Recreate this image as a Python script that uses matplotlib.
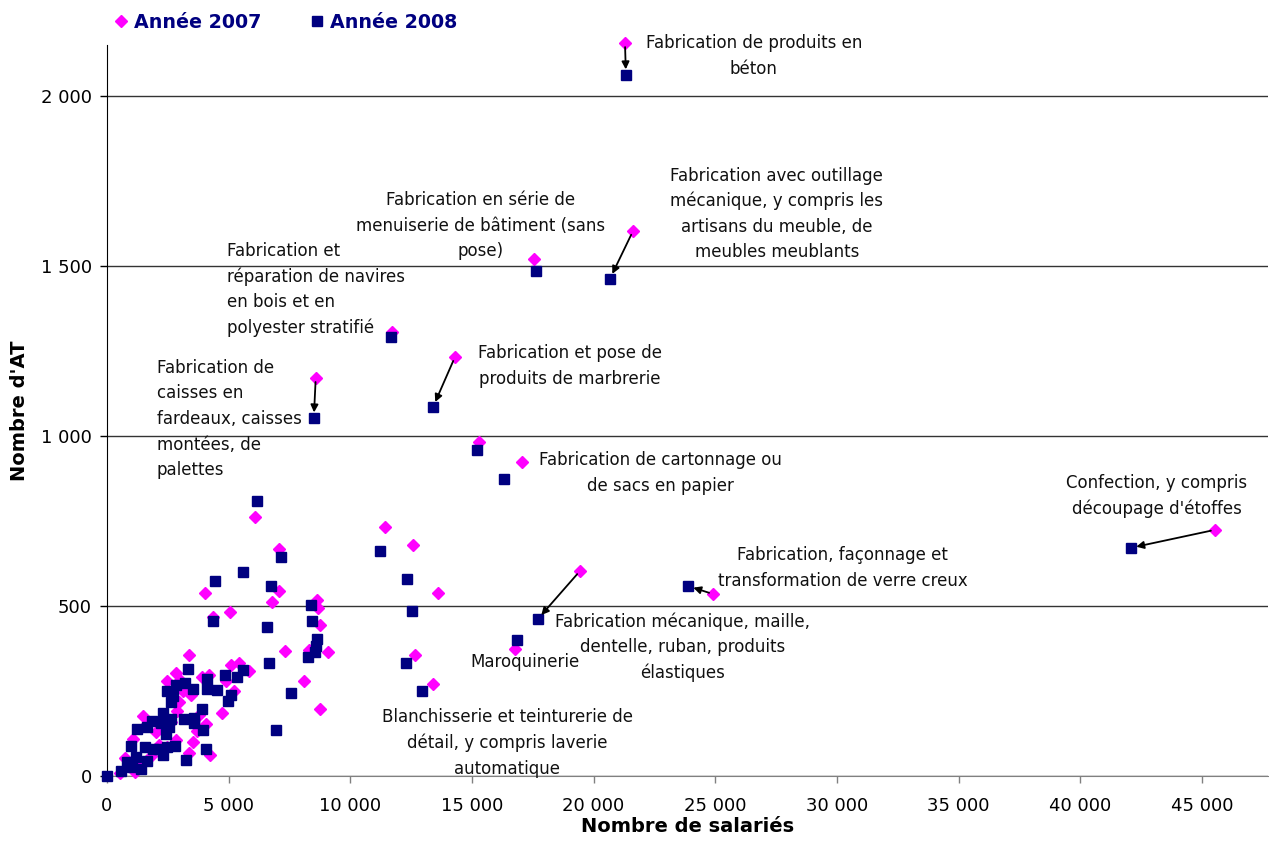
import matplotlib
matplotlib.use('Agg')
import matplotlib.pyplot as plt
from matplotlib.ticker import FuncFormatter, MultipleLocator

plt.rcParams['font.family'] = ['DejaVu Sans']

# secteurs commentes : (salaries, AT) en 2007 et 2008
sect_names = [
    'Fabrication de produits en\nbéton',
    'Fabrication avec outillage\nmécanique, y compris les\nartisans du meuble, de\nmeubles meublants',
    'Fabrication en série de\nmenuiserie de bâtiment (sans\npose)',
    'Fabrication et\nréparation de navires\nen bois et en\npolyester stratifié',
    'Fabrication et pose de\nproduits de marbrerie',
    'Fabrication de\ncaisses en\nfardeaux, caisses\nmontées, de\npalettes',
    'Fabrication de cartonnage ou\nde sacs en papier',
    'Confection, y compris\ndécoupage d\'étoffes',
    'Fabrication, façonnage et\ntransformation de verre creux',
    'Fabrication mécanique, maille,\ndentelle, ruban, produits\nélastiques',
    'Maroquinerie',
    'Blanchisserie et teinturerie de\ndétail, y compris laverie\nautomatique',
]
sect_x07 = [21290, 21620, 17550, 11710, 14300, 8580, 17070, 45540, 24910, 19440, 16770, 13390]
sect_y07 = [2156, 1603, 1521, 1306, 1232, 1171, 923, 724, 535, 603, 374, 270]
sect_x08 = [21330, 20670, 17630, 11670, 13400, 8500, 16330, 42080, 23880, 17700, 16860, 12930]
sect_y08 = [2062, 1462, 1485, 1291, 1085, 1053, 874, 671, 559, 461, 400, 251]
sect_arrow = [True, True, False, False, True, True, False, True, True, True, False, False]

# autres secteurs, annee 2007
oth_x07 = [15305, 11425, 12560, 13620, 12675,
           6070, 7080, 7080, 6780, 4040, 5055, 4340, 7300, 8095, 8750, 8645, 8670, 8750, 9080, 8290,
           3380, 2835, 2455, 3000, 3440, 2945, 2890, 1495, 3770, 4070, 4725, 5110, 5440, 5850, 4890,
           4180, 5220, 1085, 2835, 2455, 4235, 3355, 1135, 535, 725, 3685, 2125, 1820, 2630, 3135,
           1315, 1620, 2225, 3895, 3540, 2025]
oth_y07 = [982, 731, 678, 539, 355,
           761, 667, 543, 512, 539, 483, 469, 369, 278, 198, 518, 494, 445, 365, 371,
           357, 304, 278, 282, 239, 218, 192, 176, 178, 153, 186, 326, 333, 310, 278,
           296, 251, 108, 106, 84, 63, 69, 12, 8, 53, 131, 90, 60, 160, 250,
           40, 150, 150, 290, 100, 130]

# autres secteurs, annee 2008
oth_x08 = [15195, 11220, 12345, 12520, 12290,
           6180, 7165, 5575, 4450, 6755, 4340, 6590, 6650, 7580, 6945, 8370, 8430, 8615, 8590, 8560, 8260,
           0, 565, 835, 1025, 1190, 1410, 1550, 1000, 1630, 1875, 2125, 2290, 2455, 2780, 3245, 4070,
           1245, 1630, 1850, 2290, 2205, 2535, 2425, 2620, 3165, 3575, 3575, 3905, 3935,
           2455, 2645, 2700, 2835, 3220, 3330, 3550, 4125, 4125, 4510, 4860, 4975, 5085, 5330, 5580]
oth_y08 = [959, 661, 578, 485, 331,
           810, 643, 600, 574, 559, 457, 439, 331, 243, 135, 502, 457, 404, 382, 365, 349,
           0, 16, 41, 26, 57, 21, 84, 88, 45, 80, 80, 63, 84, 88, 47, 79,
           139, 143, 163, 186, 157, 143, 124, 167, 169, 172, 155, 198, 135,
           251, 218, 235, 269, 273, 316, 255, 284, 255, 253, 298, 220, 239, 290, 312]

# position des etiquettes (coordonnees des donnees)
lab_pos = [(26590, 2118, 'center'), (27535, 1653, 'center'), (15370, 1618, 'center'),
           (4935, 1432, 'left'), (19025, 1206, 'center'), (2055, 1050, 'left'),
           (22730, 891, 'center'), (43160, 824, 'center'), (30245, 612, 'center'),
           (23670, 379, 'center'), (17180, 335, 'center'), (16445, 97, 'center')]
line_step = 18.4  # points entre deux lignes d'une etiquette

x07 = sect_x07 + oth_x07
y07 = sect_y07 + oth_y07
x08 = sect_x08 + oth_x08
y08 = sect_y08 + oth_y08

fig = plt.figure(figsize=(12.69, 8.46), dpi=100)
ax = fig.add_axes([107 / 1269, 70 / 846, 1161 / 1269, 731 / 846])

p07, = ax.plot(x07, y07, ls='none', marker='D', ms=6, color='#FF00FF', mec='#FF00FF',
               label='Année 2007', zorder=3, clip_on=False)
p08, = ax.plot(x08, y08, ls='none', marker='s', ms=7, color='#000080', mec='#000080',
               label='Année 2008', zorder=4, clip_on=False)

for i in range(len(sect_names)):
    if sect_arrow[i]:
        ax.annotate('', xy=(sect_x08[i], sect_y08[i]), xytext=(sect_x07[i], sect_y07[i]),
                    arrowprops=dict(arrowstyle='-|>', color='black', lw=1.3,
                                    mutation_scale=11, shrinkA=3, shrinkB=4), zorder=5)
    # une ligne de texte a la fois
    tx, ty, al = lab_pos[i]
    lines = sect_names[i].split('\n')
    n = len(lines)
    for j, line in enumerate(lines):
        off = ((n - 1) / 2.0 - j) * line_step
        ax.annotate(line, (tx, ty), xytext=(0, off), textcoords='offset points',
                    ha=al, va='center', fontsize=12, color='#111111', zorder=6)

ax.set_xlim(0, 47720)
ax.set_ylim(0, 2150)
ax.xaxis.set_major_locator(MultipleLocator(5000))
ax.yaxis.set_major_locator(MultipleLocator(500))
fmt = FuncFormatter(lambda v, p: '{:,.0f}'.format(v).replace(',', ' '))
ax.xaxis.set_major_formatter(fmt)
ax.yaxis.set_major_formatter(fmt)
ax.tick_params(labelsize=13, length=5, width=1, direction='out', labelcolor='black')
ax.tick_params(axis='x', pad=10, color='#808080')
ax.tick_params(axis='y', pad=6, color='black')
ax.grid(axis='y', color='#333333', lw=1)
ax.set_axisbelow(True)
for s in ['top', 'right']:
    ax.spines[s].set_visible(False)
ax.spines['left'].set_color('black')
ax.spines['bottom'].set_color('#808080')

ax.set_xlabel('Nombre de salariés', fontsize=14, fontweight='bold')
ax.set_ylabel("Nombre d'AT", fontsize=14, fontweight='bold')
ax.xaxis.set_label_coords(0.5, -0.056)
ax.yaxis.set_label_coords(-0.067, 0.5)

leg = fig.legend(handles=[p07, p08], loc='upper left', bbox_to_anchor=(96 / 1269, 1.005),
                 ncol=2, frameon=False, handlelength=0.8, handletextpad=0.3,
                 columnspacing=2.5, prop={'weight': 'bold', 'size': 13.7})
for t in leg.get_texts():
    t.set_color('#000080')

fig.savefig('out.png', dpi=100)
